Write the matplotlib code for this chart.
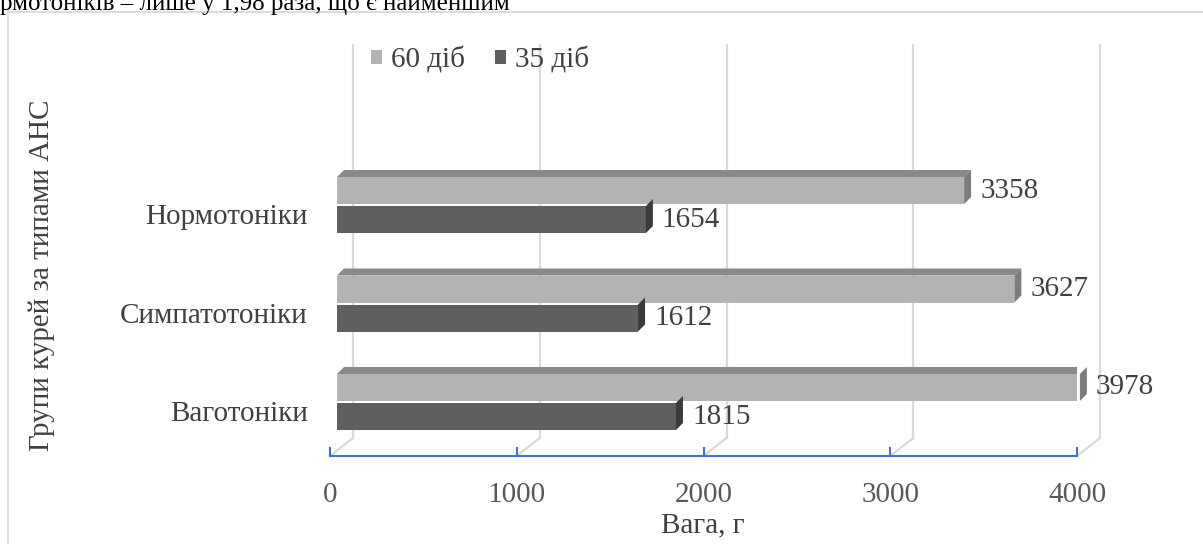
import matplotlib.pyplot as plt
from matplotlib.patches import Polygon, Rectangle, Patch
from matplotlib.lines import Line2D

FONT = ['Liberation Serif', 'DejaVu Serif']
plt.rcParams['font.family'] = FONT

categories = ['Ваготоніки', 'Симпатотоніки', 'Нормотоніки']
days60 = [3978, 3627, 3358]
days35 = [1815, 1612, 1654]
series_names = ['60 діб', '35 діб']
xticks = [0, 1000, 2000, 3000, 4000]

W, H = 1203, 544
fig = plt.figure(figsize=(W / 100, H / 100), dpi=100)

# axes: x 0 -> px 330, 4000 -> px 1077; axis line at px 456 from top
ax_left, ax_right, ax_bot, ax_top = 330, 1077, 456, 26
ax = fig.add_axes([ax_left / W, 1 - ax_bot / H, (ax_right - ax_left) / W, (ax_bot - ax_top) / H])

xlim = (0, 4000)
step = 98.5  # px per category
ylo = -(ax_bot - 402) / step
yhi = ylo + (ax_bot - ax_top) / step
ax.set_xlim(*xlim)
ax.set_ylim(ylo, yhi)

px_x = (xlim[1] - xlim[0]) / (ax_right - ax_left)  # data units per px
px_y = 1 / step

# 3D-ish back wall gridlines
grid_c = '#D9D9D9'
gdx, gdy = 23 * px_x, 18 * px_y
gtop = ylo + (ax_bot - 45) / step
for v in xticks:
    ax.plot([v + gdx, v + gdx], [ylo + gdy, gtop], color=grid_c, lw=1.6, clip_on=False, zorder=1)
    ax.plot([v, v + gdx], [ylo, ylo + gdy], color=grid_c, lw=1.6, clip_on=False, zorder=1)

# bars
bh = 27 * px_y
gap = 1 * px_y
x0 = 7 * px_x
ddx, ddy = 7 * px_x, 7 * px_y
light_front, light_top, light_side = '#B3B3B3', '#898989', '#7C7C7C'
dark_front, dark_side = '#5F5F5F', '#3A3A3A'

for i, cat in enumerate(categories):
    # 60 days (upper bar)
    yb = i + gap
    v = days60[i]
    ax.add_patch(Rectangle((x0, yb), v, bh, facecolor=light_front, edgecolor='none', zorder=3))
    ax.add_patch(Polygon([(x0, yb + bh), (x0 + v, yb + bh), (x0 + v + ddx, yb + bh + ddy),
                          (x0 + ddx, yb + bh + ddy)], closed=True, facecolor=light_top,
                         edgecolor='none', zorder=3))
    ax.add_patch(Polygon([(x0 + v, yb), (x0 + v, yb + bh), (x0 + v + ddx, yb + bh + ddy),
                          (x0 + v + ddx, yb + ddy)], closed=True, facecolor=light_side,
                         edgecolor='none', zorder=3, clip_on=False))
    ax.text(x0 + v + 16 * px_x, yb + bh / 2, str(v), ha='left', va='center',
            fontsize=21, color='#404040', family=FONT, clip_on=False)

    # 35 days (lower bar)
    yb = i - gap - bh
    v = days35[i]
    ax.add_patch(Rectangle((x0, yb), v, bh, facecolor=dark_front, edgecolor='none', zorder=4))
    ax.add_patch(Polygon([(x0 + v, yb), (x0 + v, yb + bh), (x0 + v + ddx, yb + bh + ddy),
                          (x0 + v + ddx, yb + ddy)], closed=True, facecolor=dark_side,
                         edgecolor='none', zorder=4))
    ax.text(x0 + v + 16 * px_x, yb + bh / 2, str(v), ha='left', va='center',
            fontsize=21, color='#404040', family=FONT)

# axes styling
for s in ['top', 'right', 'left']:
    ax.spines[s].set_visible(False)
ax.spines['bottom'].set_color('#4472C4')
ax.spines['bottom'].set_linewidth(1.5)
ax.set_xticks(xticks)
ax.set_xticklabels([str(t) for t in xticks], family=FONT)
ax.tick_params(axis='x', direction='in', length=6.5, width=1.5, color='#4472C4',
               labelsize=21, labelcolor='#595959', pad=19)
ax.set_yticks([i - 9 * px_y for i in range(len(categories))])
ax.set_yticklabels(categories, family=FONT)
ax.tick_params(axis='y', length=0, labelsize=21, labelcolor='#404040', pad=16)
ax.patch.set_visible(False)

fig.text(703 / W, 1 - 525 / H, 'Вага, г', ha='center', va='center', fontsize=21,
         color='#404040', family=FONT)
fig.text(42 / W, 1 - 275 / H, 'Групи курей за типами АНС', ha='center', va='center',
         rotation=90, fontsize=21, color='#404040', family=FONT)

handles = [Patch(facecolor=light_front), Patch(facecolor=dark_front)]
fig.legend(handles, series_names, loc='center', bbox_to_anchor=(480 / W, 1 - 60 / H),
           ncol=2, frameon=False, prop={'family': FONT, 'size': 21}, labelcolor='#404040',
           handlelength=0.38, handleheight=0.38, handletextpad=0.3, columnspacing=1.05)

# chart border (only top and left edges are visible) and the cut-off document line
fig.lines.append(Line2D([8 / W, 1], [1 - 11.5 / H, 1 - 11.5 / H], transform=fig.transFigure,
                        color='#D9D9D9', lw=1.3))
fig.lines.append(Line2D([8 / W, 8 / W], [0, 1 - 11.5 / H], transform=fig.transFigure,
                        color='#D9D9D9', lw=1.3))
fig.text(0, 1 - 10 / H, 'рмотоніків – лише у 1,98 раза, що є найменшим', ha='left',
         va='baseline', fontsize=18, color='black', family=FONT)

fig.savefig('out.png', dpi=100)
